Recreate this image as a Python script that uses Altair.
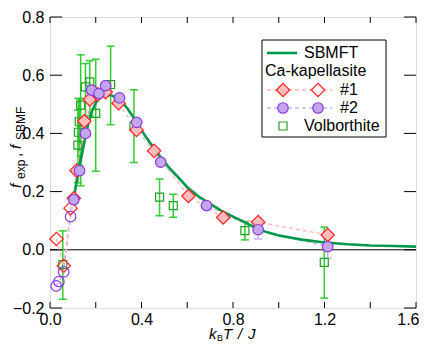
import altair as alt
import pandas as pd

# ---------------- data ----------------
sbmft_x = [0.100, 0.110, 0.120, 0.130, 0.140, 0.150, 0.160, 0.170, 0.185, 0.200, 0.215, 0.230,
           0.250, 0.270, 0.290, 0.310, 0.340, 0.370, 0.400, 0.440, 0.480, 0.520, 0.560, 0.600,
           0.650, 0.700, 0.750, 0.800, 0.850, 0.900, 0.950, 1.000, 1.100, 1.200, 1.300, 1.400,
           1.500, 1.600]
sbmft_y = [0.160, 0.205, 0.250, 0.290, 0.330, 0.370, 0.410, 0.440, 0.480, 0.505, 0.520, 0.528,
           0.532, 0.530, 0.524, 0.512, 0.484, 0.449, 0.410, 0.365, 0.322, 0.283, 0.250, 0.215,
           0.183, 0.158, 0.134, 0.114, 0.095, 0.075, 0.060, 0.049, 0.035, 0.025, 0.019, 0.015,
           0.013, 0.011]

s1_open_x = [0.028, 0.060, 0.090]
s1_open_y = [0.037, -0.055, 0.143]
s1_fill_x = [0.104, 0.116, 0.150, 0.174, 0.209, 0.243, 0.300, 0.378, 0.455, 0.605, 0.757, 0.910, 1.214]
s1_fill_y = [0.177, 0.272, 0.442, 0.517, 0.534, 0.542, 0.504, 0.412, 0.340, 0.185, 0.111, 0.095, 0.051]

s2_open_x = [0.027, 0.039, 0.060, 0.090]
s2_open_y = [-0.124, -0.109, -0.076, 0.114]
s2_fill_x = [0.104, 0.129, 0.155, 0.182, 0.214, 0.243, 0.304, 0.379, 0.484, 0.684, 0.910, 1.214]
s2_fill_y = [0.172, 0.272, 0.400, 0.549, 0.537, 0.564, 0.522, 0.438, 0.301, 0.152, 0.069, 0.011]
s2_err_x = [0.910, 1.214]
s2_err_lo = [0.037, -0.029]
s2_err_hi = [0.103, 0.051]

vol_x = [0.056, 0.122, 0.124, 0.128, 0.134, 0.155, 0.174, 0.200, 0.265, 0.367, 0.479, 0.539, 0.852, 1.199]
vol_y = [-0.051, 0.360, 0.404, 0.440, 0.497, 0.560, 0.577, 0.469, 0.568, 0.425, 0.181, 0.152, 0.066, -0.043]
vol_lo = [-0.170, 0.230, 0.260, 0.290, 0.220, 0.450, 0.460, 0.270, 0.430, 0.300, 0.117, 0.112, 0.034, -0.166]
vol_hi = [0.065, 0.480, 0.520, 0.520, 0.670, 0.640, 0.650, 0.655, 0.700, 0.550, 0.243, 0.191, 0.097, 0.078]

x_ticks = [0.0, 0.2, 0.4, 0.6, 0.8, 1.0, 1.2, 1.4, 1.6]
x_labels = [0.0, 0.4, 0.8, 1.2, 1.6]
y_ticks = [-0.2, 0.0, 0.2, 0.4, 0.6, 0.8]

# ---------------- layout ----------------
W, H = 366, 291
FONT = "Arial, Liberation Sans, sans-serif"

xscale = alt.Scale(domain=[0, 1.6], nice=False, zero=False)
yscale = alt.Scale(domain=[-0.2, 0.8], nice=False, zero=False)
xaxis = alt.Axis(values=x_labels, format=".1f", ticks=False, domain=False, grid=False,
                 labelFontSize=16, labelFont=FONT, labelColor="black", labelPadding=3,
                 labelFlush=False, labelOverlap=False, title=None,
                 labelAlign={"condition": {"test": "datum.value >= 1.59", "value": "right"},
                             "value": "center"},
                 labelOffset={"condition": {"test": "datum.value >= 1.59", "value": 3},
                              "value": 0})
yaxis = alt.Axis(values=y_ticks, format=".1f", ticks=False, domain=False, grid=False,
                 labelFontSize=16, labelFont=FONT, labelColor="black", labelPadding=6,
                 labelFlush=False, labelOverlap=False, title=None)


def X(f):
    return alt.X(f, type="quantitative", scale=xscale, axis=xaxis)


def Y(f):
    return alt.Y(f, type="quantitative", scale=yscale, axis=yaxis)


def Y2(f):
    return alt.Y2(f)


one = pd.DataFrame({"a": [0]})

df_curve = pd.DataFrame({"x": sbmft_x, "y": sbmft_y})
df_s1o = pd.DataFrame({"x": s1_open_x, "y": s1_open_y})
df_s1f = pd.DataFrame({"x": s1_fill_x, "y": s1_fill_y})
df_s1 = pd.DataFrame({"x": s1_open_x + s1_fill_x, "y": s1_open_y + s1_fill_y})
df_s2o = pd.DataFrame({"x": s2_open_x, "y": s2_open_y})
df_s2f = pd.DataFrame({"x": s2_fill_x, "y": s2_fill_y})
df_s2 = pd.DataFrame({"x": s2_open_x + s2_fill_x, "y": s2_open_y + s2_fill_y})
df_s2e = pd.DataFrame({"x": s2_err_x, "lo": s2_err_lo, "hi": s2_err_hi})
df_vol = pd.DataFrame({"x": vol_x, "y": vol_y, "lo": vol_lo, "hi": vol_hi})
df_volcap = pd.DataFrame({"x": vol_x + vol_x, "y": vol_lo + vol_hi})
df_s2cap = pd.DataFrame({"x": s2_err_x + s2_err_x, "y": s2_err_lo + s2_err_hi})
df_xt = pd.DataFrame({"x": x_ticks})
df_yt = pd.DataFrame({"y": y_ticks})
df_zero = pd.DataFrame({"y": [0.0]})

GREEN_LINE = "#00994C"
ERR_GREEN = "#33CC33"
SQ_GREEN = "#22A022"
PINK_FILL = "#FFBDBD"
RED = "#FF2222"
LAV_FILL = "#C3A6EC"
PURPLE = "#8a3ae0"
PINK_DASH = "#FFB4B4"
LAV_DASH = "#C9B6F2"

layers = []

# zero line
layers.append(alt.Chart(df_zero).mark_rule(color="black", strokeWidth=1).encode(y=Y("y")))

# ticks (inside)
layers.append(alt.Chart(df_xt).mark_rule(color="black", strokeWidth=1).encode(
    x=X("x"), y=alt.value(H), y2=alt.value(H - 6)))
layers.append(alt.Chart(df_xt).mark_rule(color="black", strokeWidth=1).encode(
    x=X("x"), y=alt.value(0), y2=alt.value(6)))
layers.append(alt.Chart(df_yt).mark_rule(color="black", strokeWidth=1).encode(
    y=Y("y"), x=alt.value(0), x2=alt.value(12)))
layers.append(alt.Chart(df_yt).mark_rule(color="black", strokeWidth=1).encode(
    y=Y("y"), x=alt.value(W - 12), x2=alt.value(W)))

# Volborthite error bars
layers.append(alt.Chart(df_vol).mark_rule(color=ERR_GREEN, strokeWidth=1.5).encode(
    x=X("x"), y=Y("lo"), y2=Y2("hi")))
layers.append(alt.Chart(df_volcap).mark_tick(color=ERR_GREEN, orient="horizontal", size=8,
                                             thickness=1.5, opacity=1).encode(x=X("x"), y=Y("y")))
# #2 error bars
layers.append(alt.Chart(df_s2e).mark_rule(color=LAV_DASH, strokeWidth=1.5).encode(
    x=X("x"), y=Y("lo"), y2=Y2("hi")))
layers.append(alt.Chart(df_s2cap).mark_tick(color=LAV_DASH, orient="horizontal", size=8,
                                            thickness=1.5, opacity=1).encode(x=X("x"), y=Y("y")))

# dashed connecting lines
layers.append(alt.Chart(df_s1).mark_line(color=PINK_DASH, strokeDash=[4, 3], strokeWidth=1.3).encode(
    x=X("x"), y=Y("y"), order="x:Q"))
layers.append(alt.Chart(df_s2).mark_line(color=LAV_DASH, strokeDash=[4, 3], strokeWidth=1.3).encode(
    x=X("x"), y=Y("y"), order="x:Q"))

# SBMFT curve
layers.append(alt.Chart(df_curve).mark_line(color=GREEN_LINE, strokeWidth=2.6).encode(
    x=X("x"), y=Y("y"), order="x:Q"))

# Volborthite squares
layers.append(alt.Chart(df_vol).mark_point(shape="square", filled=False, color=SQ_GREEN,
                                           strokeWidth=1.2, size=64, opacity=1).encode(x=X("x"), y=Y("y")))

# Ca-kapellasite #1
layers.append(alt.Chart(df_s1o).mark_point(shape="diamond", filled=False, color=RED,
                                           strokeWidth=1.2, size=180, opacity=1).encode(x=X("x"), y=Y("y")))
layers.append(alt.Chart(df_s1f).mark_point(shape="diamond", filled=True, fill=PINK_FILL, stroke=RED,
                                           strokeWidth=1.2, size=180, opacity=1).encode(x=X("x"), y=Y("y")))
# Ca-kapellasite #2
layers.append(alt.Chart(df_s2o).mark_point(shape="circle", filled=False, color=PURPLE,
                                           strokeWidth=1.2, size=110, opacity=1).encode(x=X("x"), y=Y("y")))
layers.append(alt.Chart(df_s2f).mark_point(shape="circle", filled=True, fill=LAV_FILL, stroke=PURPLE,
                                           strokeWidth=1.2, size=110, opacity=1).encode(x=X("x"), y=Y("y")))

# ---------------- legend (manual) ----------------
layers.append(alt.Chart(one).mark_rect(fill="white", stroke="black", strokeWidth=1).encode(
    x=alt.value(212), x2=alt.value(336), y=alt.value(23), y2=alt.value(120)))
layers.append(alt.Chart(one).mark_rule(color=GREEN_LINE, strokeWidth=2.6).encode(
    x=alt.value(217), x2=alt.value(247), y=alt.value(36)))


def txt(s, x, y, size=16, style="normal", align="left", baseline="middle", angle=0, color="black"):
    return alt.Chart(one).mark_text(text=s, font=FONT, fontSize=size, fontStyle=style, align=align,
                                    baseline=baseline, angle=angle, color=color).encode(
        x=alt.value(x), y=alt.value(y))


layers.append(txt("SBMFT", 254, 36))
layers.append(txt("Ca-kapellasite", 215, 54))
layers.append(alt.Chart(one).mark_rule(color=PINK_DASH, strokeDash=[4, 3], strokeWidth=1.3).encode(
    x=alt.value(217), x2=alt.value(282), y=alt.value(73)))
layers.append(alt.Chart(one).mark_point(shape="diamond", filled=True, fill=PINK_FILL, stroke=RED,
                                        strokeWidth=1.2, size=180, opacity=1).encode(
    x=alt.value(233), y=alt.value(73)))
layers.append(alt.Chart(one).mark_point(shape="diamond", filled=True, fill="white", stroke=RED,
                                        strokeWidth=1.2, size=180, opacity=1).encode(
    x=alt.value(268), y=alt.value(73)))
layers.append(txt("#1", 290, 73))
layers.append(alt.Chart(one).mark_rule(color=LAV_DASH, strokeDash=[4, 3], strokeWidth=1.3).encode(
    x=alt.value(217), x2=alt.value(282), y=alt.value(91)))
layers.append(alt.Chart(one).mark_point(shape="circle", filled=True, fill=LAV_FILL, stroke=PURPLE,
                                        strokeWidth=1.2, size=110, opacity=1).encode(
    x=alt.value(233), y=alt.value(91)))
layers.append(alt.Chart(one).mark_point(shape="circle", filled=True, fill=LAV_FILL, stroke=PURPLE,
                                        strokeWidth=1.2, size=110, opacity=1).encode(
    x=alt.value(268), y=alt.value(91)))
layers.append(txt("#2", 290, 91))
layers.append(alt.Chart(one).mark_point(shape="square", filled=False, color=SQ_GREEN,
                                        strokeWidth=1.2, size=64, opacity=1).encode(
    x=alt.value(233), y=alt.value(109)))
layers.append(txt("Volborthite", 254, 109))

# ---------------- axis titles ----------------
# x title: k_B T / J
layers.append(txt("k", 159, 322, size=15, style="italic", baseline="alphabetic"))
layers.append(txt("B", 167, 324, size=9, baseline="alphabetic"))
layers.append(txt("T", 173, 322, size=15, style="italic", baseline="alphabetic"))
layers.append(txt("/", 188, 322, size=15, style="italic", baseline="alphabetic"))
layers.append(txt("J", 198, 322, size=15, style="italic", baseline="alphabetic"))

# y title: f_exp , f_SBMF (rotated)
layers.append(txt("f", -29, 171, size=15, style="italic", baseline="alphabetic", angle=270))
layers.append(txt("exp", -25, 162, size=12, baseline="alphabetic", angle=270))
layers.append(txt(",", -29, 140, size=15, baseline="alphabetic", angle=270))
layers.append(txt("f", -29, 132, size=15, style="italic", baseline="alphabetic", angle=270))
layers.append(txt("SBMF", -25, 123, size=12, baseline="alphabetic", angle=270))

chart = alt.layer(*layers).properties(
    width=W, height=H,
    autosize=alt.AutoSizeParams(type="none"),
    padding={"left": 42, "top": 9, "right": 3, "bottom": 33},
).configure_view(
    fill="#FFFFC4", stroke="black", strokeWidth=1
).configure(background="white")

chart.save("out.html", embed_options={"renderer": "svg", "actions": False})
